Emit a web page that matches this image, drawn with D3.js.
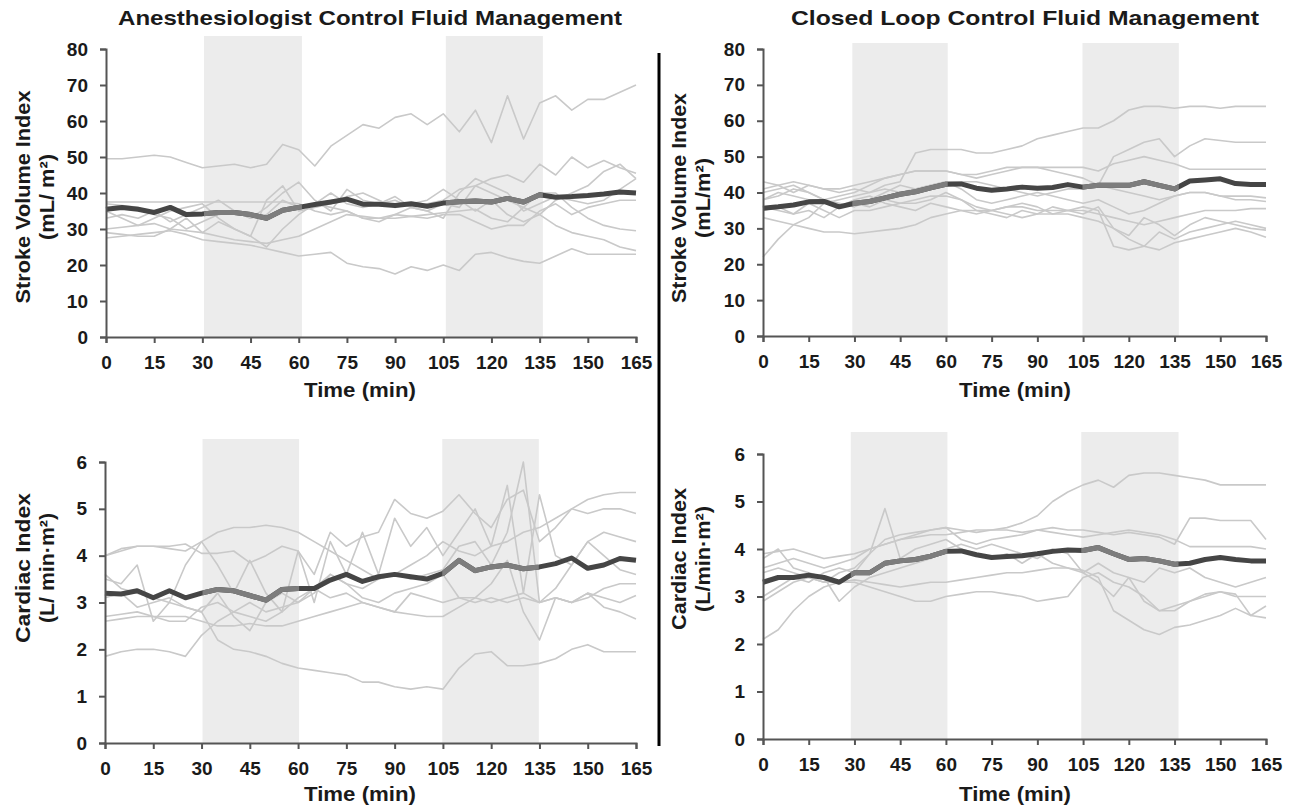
<!DOCTYPE html>
<html>
<head>
<meta charset="utf-8">
<script src="https://cdn.jsdelivr.net/npm/d3@7"></script>
<style>
  body { margin: 0; background: #fff; }
  svg text { font-family: "Liberation Sans", Arial, Helvetica, sans-serif; font-weight: bold; fill: #1a1a1a; }
</style>
</head>
<body>
<div id="chart"></div>
<script>
// time grid (min) shared by every trace
const minutes = [0,5,10,15,20,25,30,35,40,45,50,55,60,65,70,75,80,85,90,95,100,105,110,115,120,125,130,135,140,145,150,155,160,165];
const xTicks = [0,15,30,45,60,75,90,105,120,135,150,165];
const sviTicks = [0,10,20,30,40,50,60,70,80];
const ciTicks = [0,1,2,3,4,5,6];

// Anesthesiologist control - stroke volume index
const anSviMean = [35.5,36,35.5,34.6,36,34,34.2,34.6,34.6,34,33,35.2,36,36.8,37.5,38.3,36.9,36.9,36.5,37,36.3,37.2,37.6,37.8,37.5,38.5,37.5,39.5,38.8,39,39.3,39.7,40.3,40];
const anSvi1 = [49.5,49.5,50,50.5,50,48.5,47,47.5,48,47,48,53.5,52,47.5,53,56,59,58,61,62,59,62,57,63,54,67,55,65,67,63,66,66,68,70];
const anSvi2 = [27.5,28,28.5,29,29.5,28.5,27,26.5,26,25.5,24.5,23.5,22.5,23,23.5,20.5,19.5,19,17.5,19.5,18.5,20,18.5,23,23.5,22,21,20.5,22.5,24.5,23,23,23,23];
const anSvi3 = [30,30.5,31,31.5,30,29.5,29,28,27,26.5,26,27,28,30,32,34,33.5,33,33,33.5,34,34.5,35,35.5,33,32,36,34,31,29,28,27,25,24];
const anSvi4 = [37,36.5,36,34,33,30,32,34,35,33,34,38,36,37,40,37,36,37,38,36,35,37,36,42,40,38,36,40,40,36,33,31,30,29.5];
const anSvi5 = [33,34,33,35,32,34,36,38,35,33,36,40,43,38,35,41,38,37,39,36,37,38,41,42,44,45,43,48,45,50,47,49,47,45.5];
const anSvi6 = [35,33,31,33,35,36,37,33,30,28,38,42,35,36,37,39,40,38,36,37,38,41,38,35,38,34,32,34,38,40,42,46,48,44];
const anSvi7 = [37.5,37.5,37.5,37.5,37.5,37.5,37.5,37.5,37.5,37.5,37.5,37.5,37,35,34,35,33,33,34,33.5,33,34,34,32,30,31,31,35,37,34,36,37,38,38];
const anSvi8 = [29,28.5,28,28,30,33,29,32,30,28,25,30,34,37,36,35,33,32,34,36,35,33,40,44,42,40,35,37,39,38,37,38,41,44];

// Closed loop control - stroke volume index
const clSviMean = [35.6,36,36.5,37.4,37.5,36,37,37.5,38.5,39.5,40.2,41.3,42.3,42.4,41.2,40.6,41,41.5,41.2,41.4,42.2,41.5,42,42,42,43,42,41,43.2,43.5,43.8,42.5,42.2,42.2];
const clSvi1 = [41,42,40,42,41,40,41,40,42,43,51,52,52,52,51,51,52,53,55,56,57,58,58,60,63,64,64,63.5,64,64,63.5,64,64,64];
const clSvi2 = [38,39,41,40,38,39,40,42,44,45,46,46,46,45,44,45,46,47,47,46,45,44,42,50,52,54,55,50,53,55,54.5,54,54,54];
const clSvi3 = [43,42,43,42,41,41,42,43,44,45,46,46,46,45,45,46,47,47,47,47,47,47,46,48,49,50,49,48,46.5,46.5,46.5,46.5,46.5,46.5];
const clSvi4 = [40,41,42,40,38,37,36,38,40,42,41,42,43,41,38,37,38,39,40,39,38,37,38,36,34,35,37,39,40,40,39,39,39,38.5];
const clSvi5 = [33,32,31,30,29,29,28.5,29,29.5,30,31,33,34,35,35,35,36,36,35,35,35,35,34,33,32,31,32,33,34,35,35,35,35.5,35.5];
const clSvi6 = [36,35,34,35,33,36,37,36,38,37,37,38,40,38,35,34,33,35,34,36,35,34,36,30,28,33,31,28,31,33,32,31,30,29.5];
const clSvi7 = [35,36,34,37,35,33,35,35,36,37,38,39,39,38,36,35,34,33,34,34,34,33,32,30,27,25,24,26,27,28,29,30,29,27.5];
const clSvi8 = [38,40,39,38,38,36,38,39,37,36,35,37,36,35,34,35,36,37,36,34,35,36,35,25,24,25,29,27,29,30,31,32,31,30];
const clSvi9 = [22,27,31,33,37,38,39,40,41,40,41,42,43,43,43,42,41,40,39,40,41,41,42,41,40,39,38,39,40,40,39,38,38,37.5];

// Anesthesiologist control - cardiac index
const anCiMean = [3.2,3.18,3.25,3.1,3.25,3.1,3.2,3.28,3.25,3.15,3.05,3.28,3.3,3.3,3.48,3.6,3.45,3.55,3.6,3.55,3.5,3.62,3.9,3.68,3.76,3.8,3.72,3.76,3.83,3.95,3.73,3.8,3.94,3.9];
const anCi1 = [1.85,1.95,2.0,2.0,1.95,1.85,2.3,2.6,2.8,3.0,2.8,2.9,3.0,3.2,3.6,3.4,3.1,3.0,3.2,3.3,3.4,3.6,3.1,3.0,3.1,3.0,3.1,3.0,3.1,3.0,3.2,3.1,3.0,3.15];
const anCi2 = [3.6,3.3,3.2,3.1,3.0,2.9,2.8,2.2,2.0,1.95,1.85,1.7,1.6,1.55,1.5,1.45,1.3,1.3,1.2,1.15,1.2,1.15,1.6,1.9,1.95,1.65,1.65,1.7,1.8,2.0,2.1,1.95,1.95,1.95];
const anCi3 = [4.0,4.15,4.2,4.2,4.2,4.25,4.05,4.05,4.1,3.85,4.0,4.2,4.1,3.6,4.5,4.2,4.4,4.5,5.2,4.9,4.8,4.95,5.3,4.9,4.6,5.2,5.4,4.3,4.6,5.0,5.2,5.3,5.35,5.35];
const anCi4 = [4.0,4.1,4.2,4.2,4.15,4.1,4.3,4.5,4.6,4.6,4.65,4.6,4.5,4.3,4.1,3.9,3.7,3.5,3.6,3.8,4.0,4.3,4.1,4.0,4.2,4.3,4.5,4.6,4.8,5.0,4.9,5.0,5.0,4.9];
const anCi5 = [3.5,3.4,3.8,2.6,3.0,3.8,4.3,3.8,3.2,3.9,3.2,2.8,4.1,3.0,4.3,3.6,4.5,3.6,4.8,4.2,4.6,4.0,4.5,5.0,4.2,5.5,3.2,5.3,4.0,3.8,4.3,4.5,4.4,4.3];
const anCi6 = [3.1,3.2,2.9,3.0,3.1,2.9,2.8,3.2,2.7,2.4,3.0,3.2,3.0,3.3,3.6,3.4,3.3,3.5,3.6,3.5,3.6,3.7,4.2,4.3,3.8,4.5,6.0,3.0,3.3,3.8,4.3,4.0,3.7,3.6];
const anCi7 = [2.7,2.75,2.8,2.7,2.6,2.6,2.9,3.0,2.8,2.7,2.6,2.8,3.1,3.3,3.1,3.2,3.0,2.9,2.8,3.2,3.1,3.0,3.1,3.1,3.4,3.9,2.8,2.2,3.1,3.0,3.2,2.9,2.8,2.65];
const anCi8 = [2.6,2.65,2.7,2.7,2.7,2.7,2.6,2.5,2.5,2.55,2.5,2.5,2.6,2.7,2.8,2.9,3.0,2.9,2.8,2.75,2.7,2.7,2.9,3.1,3.0,3.1,3.2,3.0,3.1,3.0,3.1,3.3,3.4,3.4];

// Closed loop control - cardiac index
const clCiMean = [3.3,3.4,3.4,3.45,3.4,3.3,3.5,3.5,3.7,3.75,3.78,3.85,3.95,3.96,3.88,3.82,3.84,3.86,3.9,3.95,3.98,3.97,4.03,3.9,3.78,3.8,3.75,3.68,3.7,3.78,3.82,3.78,3.75,3.75];
const clCi1 = [3.9,3.95,4.0,3.9,3.8,3.85,3.9,4.0,4.1,4.2,4.25,4.3,4.3,4.35,4.4,4.4,4.45,4.55,4.7,5.0,5.2,5.35,5.45,5.3,5.55,5.6,5.6,5.55,5.5,5.45,5.35,5.35,5.35,5.35];
const clCi2 = [3.6,3.7,3.8,3.7,3.6,3.7,3.8,4.0,4.1,4.2,4.3,4.4,4.45,4.4,4.35,4.4,4.4,4.35,4.4,4.45,4.4,4.4,4.35,4.3,4.35,4.3,4.25,4.1,4.65,4.65,4.6,4.6,4.6,4.2];
const clCi3 = [3.5,3.6,3.5,3.4,3.3,3.5,3.6,3.9,4.2,4.3,4.35,4.4,4.45,4.2,4.1,4.2,4.25,4.3,4.4,4.35,4.3,4.25,4.3,4.35,4.4,4.35,4.3,4.2,4.05,4.05,4.05,4.05,4.05,4.0];
const clCi4 = [3.0,3.2,3.4,3.3,3.5,3.6,3.5,3.9,4.85,3.8,4.0,4.1,4.2,4.0,3.9,3.8,3.9,3.7,3.9,3.7,3.6,3.5,3.7,3.5,3.4,3.3,3.6,3.5,3.6,3.4,3.3,3.2,3.3,3.4];
const clCi5 = [2.9,3.1,3.3,3.4,3.3,3.3,3.3,3.2,3.1,3.0,2.9,2.9,3.0,3.05,3.1,3.1,3.05,3.0,2.9,2.95,3.0,3.4,3.5,3.3,3.2,3.0,2.7,2.7,2.9,3.0,3.1,3.05,2.6,2.55];
const clCi6 = [2.1,2.3,2.7,3.0,3.2,3.3,3.35,3.3,3.25,3.2,3.25,3.3,3.3,3.35,3.4,3.45,3.5,3.5,3.55,3.6,3.6,3.55,3.4,2.7,2.5,2.3,2.2,2.35,2.4,2.5,2.6,2.75,2.6,2.8];
const clCi7 = [3.8,4.0,3.6,3.5,3.4,2.9,3.2,3.4,3.5,3.6,3.7,3.8,4.0,4.1,4.0,4.1,4.0,3.9,3.8,4.0,3.9,3.5,3.3,3.0,3.4,2.9,2.7,2.8,2.9,3.05,3.1,3.0,3.0,3.0];

// set size for svg container
let width = 1289;
let height = 811;

let svg = d3.select("#chart")
            .append("svg")
            .attr("width", width)
            .attr("height", height);

// panel layout (pixel boxes)
let panels = [
    { id: "p1", left: 106, right: 636, top: 49, bottom: 337, max: 80, ticks: sviTicks,
      shade: [[30.5, 61], [105.8, 136]], shadeTop: 36,
      mean: anSviMean, subjects: [anSvi1, anSvi2, anSvi3, anSvi4, anSvi5, anSvi6, anSvi7, anSvi8],
      title: "Anesthesiologist Control Fluid Management", titleX: 370, titleW: 504,
      yLab1: "Stroke Volume Index", yLab1W: 213, yLab2: "(mL/ m²)", yLab2W: 86, yLabX: 22, yLabY: 197,
      xLabX: 360, xLabY: 397 },
    { id: "p2", left: 763, right: 1266, top: 49, bottom: 336, max: 80, ticks: sviTicks,
      shade: [[29.3, 60.6], [104.8, 136.4]], shadeTop: 43,
      mean: clSviMean, subjects: [clSvi1, clSvi2, clSvi3, clSvi4, clSvi5, clSvi6, clSvi7, clSvi8, clSvi9],
      title: "Closed Loop Control Fluid Management", titleX: 1025, titleW: 468,
      yLab1: "Stroke Volume Index", yLab1W: 210, yLab2: "(mL/m²)", yLab2W: 80, yLabX: 678, yLabY: 198,
      xLabX: 1015, xLabY: 397 },
    { id: "p3", left: 105, right: 636, top: 462, bottom: 743, max: 6, ticks: ciTicks,
      shade: [[30.3, 60.3], [104.8, 134.8]], shadeTop: 439,
      mean: anCiMean, subjects: [anCi1, anCi2, anCi3, anCi4, anCi5, anCi6, anCi7, anCi8],
      yLab1: "Cardiac  Index", yLab1W: 150, yLab2: "(L/ min·m²)", yLab2W: 110, yLabX: 22, yLabY: 568,
      xLabX: 360, xLabY: 801 },
    { id: "p4", left: 763, right: 1266, top: 454, bottom: 739, max: 6, ticks: ciTicks,
      shade: [[28.8, 60.5], [104.4, 136.3]], shadeTop: 432,
      mean: clCiMean, subjects: [clCi1, clCi2, clCi3, clCi4, clCi5, clCi6, clCi7],
      yLab1: "Cardiac Index", yLab1W: 142, yLab2: "(L/min·m²)", yLab2W: 106, yLabX: 678, yLabY: 559,
      xLabX: 1015, xLabY: 801 }
];

panels.forEach(p => {
    let g = svg.append("g");

    let xScale = d3.scaleLinear().domain([0, 165]).range([p.left, p.right]);
    let yScale = d3.scaleLinear().domain([0, p.max]).range([p.bottom, p.top]);

    // shaded intervention windows
    g.selectAll("rect.shade")
        .data(p.shade)
        .enter()
        .append("rect")
        .attr("class", "shade")
        .attr("x", d => xScale(d[0]))
        .attr("width", d => xScale(d[1]) - xScale(d[0]))
        .attr("y", p.shadeTop)
        .attr("height", p.bottom - p.shadeTop)
        .attr("fill", "#ececec");

    let line = d3.line()
        .x((d, i) => xScale(minutes[i]))
        .y(d => yScale(d));

    // individual patients
    g.selectAll("path.subject")
        .data(p.subjects)
        .enter()
        .append("path")
        .attr("class", "subject")
        .attr("d", line)
        .attr("fill", "none")
        .attr("stroke", "#c9c9c9")
        .attr("stroke-width", 1.6)
        .attr("stroke-linejoin", "round");

    // mean line, lighter inside the shaded windows
    let clip = svg.append("clipPath").attr("id", "clip-" + p.id);
    p.shade.forEach(s => {
        clip.append("rect")
            .attr("x", xScale(s[0]))
            .attr("width", xScale(s[1]) - xScale(s[0]))
            .attr("y", 0)
            .attr("height", height);
    });

    g.append("path")
        .attr("d", line(p.mean))
        .attr("fill", "none")
        .attr("stroke", "#454545")
        .attr("stroke-width", 5)
        .attr("stroke-linejoin", "round");

    g.append("path")
        .attr("d", line(p.mean))
        .attr("clip-path", "url(#clip-" + p.id + ")")
        .attr("fill", "none")
        .attr("stroke", "#7d7d7d")
        .attr("stroke-width", 5)
        .attr("stroke-linejoin", "round");

    // axes
    let xAxis = d3.axisBottom(xScale).tickValues(xTicks).tickSize(6).tickPadding(13);
    let yAxis = d3.axisLeft(yScale).tickValues(p.ticks).tickFormat(d3.format("d")).tickSize(6).tickPadding(12);

    let styleAxis = a => {
        a.attr("font-size", null).attr("font-family", null);
        a.select(".domain").attr("stroke", "#555").attr("stroke-width", 2);
        a.selectAll(".tick line").attr("stroke", "#555").attr("stroke-width", 2);
        a.selectAll(".tick text").style("font-size", "19px").attr("fill", "#1a1a1a");
    };

    g.append("g").attr("transform", `translate(0, ${p.bottom})`).call(xAxis).call(styleAxis);
    g.append("g").attr("transform", `translate(${p.left}, 0)`).call(yAxis).call(styleAxis);

    // labels
    if (p.title) {
        g.append("text")
            .attr("x", p.titleX)
            .attr("y", 25)
            .attr("text-anchor", "middle")
            .attr("textLength", p.titleW)
            .attr("lengthAdjust", "spacingAndGlyphs")
            .style("font-size", "21px")
            .text(p.title);
    }

    g.append("text")
        .attr("x", p.xLabX)
        .attr("y", p.xLabY)
        .attr("text-anchor", "middle")
        .attr("textLength", 112)
        .attr("lengthAdjust", "spacingAndGlyphs")
        .style("font-size", "21px")
        .text("Time (min)");

    g.append("text")
        .attr("transform", `translate(${p.yLabX + 8}, ${p.yLabY}) rotate(-90)`)
        .attr("text-anchor", "middle")
        .attr("textLength", p.yLab1W)
        .attr("lengthAdjust", "spacingAndGlyphs")
        .style("font-size", "21px")
        .text(p.yLab1);

    g.append("text")
        .attr("transform", `translate(${p.yLabX + 32}, ${p.yLabY}) rotate(-90)`)
        .attr("text-anchor", "middle")
        .attr("textLength", p.yLab2W)
        .attr("lengthAdjust", "spacingAndGlyphs")
        .style("font-size", "20px")
        .text(p.yLab2);
});

// divider between the two groups
svg.append("line")
    .attr("x1", 659).attr("x2", 659)
    .attr("y1", 53).attr("y2", 746)
    .attr("stroke", "#000")
    .attr("stroke-width", 3);
</script>
</body>
</html>
